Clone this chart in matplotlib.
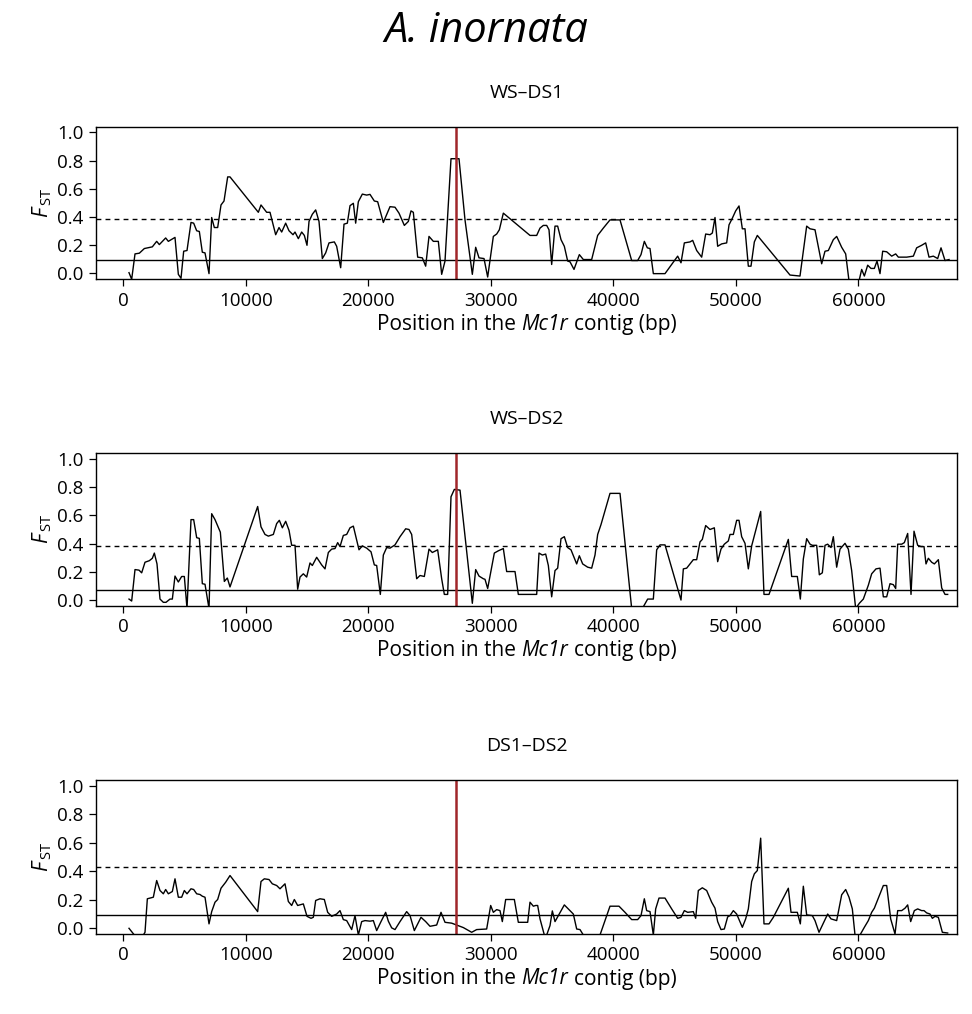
import matplotlib
matplotlib.use("Agg")
import matplotlib.pyplot as plt
from matplotlib.offsetbox import AnchoredOffsetbox, HPacker, TextArea

plt.rcParams["font.family"] = ["Open Sans", "DejaVu Sans"]
plt.rcParams["mathtext.fontset"] = "custom"
plt.rcParams["mathtext.rm"] = "Open Sans"
plt.rcParams["mathtext.it"] = "Open Sans:italic"

# WS-DS1
pos1 = [465, 683, 955, 1309, 1717, 2370, 2724, 2941, 3458, 3676, 4220, 4492, 4710, 4928, 5200,
        5526, 5744, 5989, 6206, 6451, 6669, 6996, 7214, 7431, 7703, 7975, 8220, 8520, 8710,
        11023, 11240, 11703, 11975, 12438, 12710, 12928, 13254, 13526, 13853, 14016, 14288,
        14560, 14778, 14995, 15159, 15428, 15703, 15975, 16247, 16519, 16791, 17226, 17417,
        17744, 18016, 18288, 18506, 18778, 18968, 19186, 19512, 19866, 20138, 20492, 20764,
        21226, 21771, 22179, 22505, 22941, 23267, 23485, 23675, 24029, 24410, 24682, 24954,
        25308, 25716, 25988, 26260, 26750, 27403, 27893, 28491, 28764, 29036, 29444, 29744,
        30206, 30478, 30696, 31022, 33199, 33744, 34016, 34288, 34560, 34750, 34968, 35240,
        35457, 35730, 36001, 36274, 36464, 36791, 37226, 37552, 38233, 38723, 39185, 39729,
        40546, 41498, 41988, 42260, 42532, 42777, 42995, 43267, 44219, 45253, 45525, 45798,
        46260, 46478, 46805, 47213, 47539, 47892, 48083, 48301, 48518, 48845, 49253, 49444,
        49715, 49988, 50260, 50532, 50750, 51021, 51239, 51512, 51756, 54423, 55239, 55784,
        56056, 56464, 57008, 57280, 57552, 57960, 58233, 58641, 58967, 59240, 60056, 60274,
        60492, 60764, 61035, 61307, 61525, 61770, 61988, 62315, 62723, 63049, 63267, 63947,
        64491, 64763, 65171, 65498, 65770, 66124, 66478, 66750, 67077, 67403]
fst1 = [0.005, -0.042, 0.138, 0.143, 0.176, 0.188, 0.227, 0.204, 0.251, 0.227, 0.255, -0.007,
        -0.035, 0.157, 0.162, 0.361, 0.356, 0.302, 0.297, 0.150, 0.145, -0.002, 0.396, 0.325,
        0.325, 0.485, 0.513, 0.684, 0.684, 0.433, 0.485, 0.433, 0.433, 0.274, 0.325, 0.293,
        0.356, 0.302, 0.274, 0.293, 0.246, 0.293, 0.269, 0.199, 0.368, 0.419, 0.450, 0.368,
        0.105, 0.145, 0.216, 0.223, 0.192, 0.040, 0.349, 0.356, 0.480, 0.497, 0.356, 0.508,
        0.562, 0.555, 0.560, 0.513, 0.508, 0.361, 0.473, 0.469, 0.427, 0.340, 0.368, 0.443,
        0.433, 0.115, 0.110, 0.051, 0.262, 0.227, 0.227, -0.007, 0.087, 0.813, 0.813, 0.379,
        -0.007, 0.185, 0.110, 0.105, -0.026, 0.262, 0.279, 0.309, 0.427, 0.269, 0.269, 0.321,
        0.340, 0.340, 0.309, 0.063, 0.335, 0.335, 0.239, 0.192, 0.087, 0.082, 0.028, 0.133,
        0.098, 0.098, 0.269, 0.321, 0.379, 0.379, 0.091, 0.091, 0.133, 0.227, 0.181, 0.176,
        -0.002, -0.002, 0.122, 0.075, 0.216, 0.223, 0.234, 0.162, 0.115, 0.279, 0.274, 0.286,
        0.396, 0.192, 0.209, 0.216, 0.344, 0.391, 0.443, 0.478, 0.316, 0.316, 0.051, 0.051,
        0.223, 0.269, -0.012, -0.019, 0.335, 0.316, 0.309, 0.068, 0.157, 0.162, 0.239, 0.262,
        0.185, 0.138, -0.054, -0.054, 0.028, -0.019, 0.058, 0.035, 0.035, 0.087, -0.002, 0.157,
        0.153, 0.122, 0.138, 0.115, 0.115, 0.122, 0.181, 0.199, 0.216, 0.115, 0.122, 0.105,
        0.181, 0.091, 0.098]

# WS-DS2
pos2 = [465, 683, 955, 1282, 1500, 1771, 2125, 2370, 2533, 2751, 2996, 3268, 3486, 3812, 4003,
        4220, 4492, 4764, 4982, 5200, 5526, 5744, 5989, 6206, 6451, 6669, 6996, 7214, 7486,
        7921, 8247, 8492, 8710, 10968, 11240, 11567, 11839, 12247, 12519, 12737, 12982, 13254,
        13526, 13744, 14016, 14233, 14424, 14696, 14968, 15240, 15431, 15785, 16193, 16465,
        16737, 17009, 17281, 17499, 17689, 17961, 18234, 18506, 18778, 19240, 19512, 19866,
        20220, 20492, 20682, 20981, 21226, 21499, 21771, 22179, 22587, 23050, 23322, 23539,
        23948, 24220, 24573, 24954, 25226, 25662, 25988, 26206, 26478, 26750, 27022, 27485,
        28491, 28764, 29036, 29389, 29526, 29744, 30287, 30614, 31022, 31294, 31975, 32246,
        33744, 33934, 34206, 34478, 34696, 34968, 35240, 35457, 35730, 36001, 36274, 36546,
        37009, 37226, 37498, 37906, 38233, 38505, 38723, 38995, 39729, 40546, 41498, 42369,
        42804, 43267, 43539, 43811, 44219, 45525, 45716, 45988, 46531, 46804, 47076, 47266,
        47539, 47892, 48246, 48518, 48790, 49062, 49389, 49525, 49797, 50069, 50260, 50477,
        50750, 51021, 51294, 51702, 52029, 52300, 52709, 54287, 54559, 55021, 55266, 55511,
        55784, 56056, 56246, 56600, 56817, 57062, 57280, 57498, 57770, 57960, 58233, 58505,
        58913, 59185, 59457, 59783, 60082, 60409, 60817, 61089, 61443, 61770, 62042, 62315,
        62587, 62859, 63049, 63213, 63539, 63756, 64029, 64301, 64546, 64845, 65117, 65362,
        65525, 65716, 65988, 66206, 66533, 66805, 67077, 67294]
fst2 = [0.007, -0.007, 0.216, 0.212, 0.193, 0.268, 0.279, 0.296, 0.333, 0.256, 0.007, -0.016,
        -0.016, 0.007, 0.007, 0.170, 0.128, 0.167, 0.167, -0.060, 0.570, 0.570, 0.442, 0.437,
        0.116, 0.112, -0.060, 0.612, 0.570, 0.481, 0.132, 0.156, 0.093, 0.663, 0.519, 0.465,
        0.453, 0.465, 0.542, 0.565, 0.512, 0.558, 0.495, 0.388, 0.388, 0.077, 0.163, 0.186,
        0.163, 0.263, 0.245, 0.303, 0.249, 0.221, 0.337, 0.361, 0.365, 0.407, 0.379, 0.458,
        0.465, 0.512, 0.524, 0.356, 0.384, 0.368, 0.342, 0.249, 0.245, 0.040, 0.319, 0.372,
        0.368, 0.391, 0.449, 0.505, 0.500, 0.465, 0.151, 0.174, 0.167, 0.361, 0.337, 0.356,
        0.151, 0.040, 0.040, 0.732, 0.784, 0.779, -0.023, 0.216, 0.170, 0.151, 0.147, 0.082,
        0.333, 0.349, 0.365, 0.202, 0.202, 0.040, 0.040, 0.333, 0.319, 0.326, 0.245, 0.023,
        0.209, 0.226, 0.435, 0.449, 0.372, 0.356, 0.256, 0.314, 0.256, 0.233, 0.226, 0.319,
        0.465, 0.535, 0.756, 0.756, -0.060, -0.060, 0.007, 0.007, 0.356, 0.391, 0.391, 0.000,
        0.221, 0.226, 0.286, 0.286, 0.412, 0.430, 0.528, 0.500, 0.512, 0.272, 0.361, 0.396,
        0.419, 0.465, 0.465, 0.565, 0.565, 0.449, 0.402, 0.221, 0.384, 0.519, 0.628, 0.040,
        0.040, 0.430, 0.167, 0.167, 0.007, 0.291, 0.435, 0.396, 0.388, 0.388, 0.179, 0.193,
        0.388, 0.396, 0.372, 0.449, 0.233, 0.361, 0.402, 0.361, 0.209, -0.060, -0.023, 0.007,
        0.105, 0.186, 0.221, 0.226, 0.023, 0.023, 0.116, 0.109, 0.082, 0.396, 0.396, 0.407,
        0.472, 0.040, 0.488, 0.388, 0.379, 0.379, 0.256, 0.296, 0.268, 0.256, 0.286, 0.086,
        0.040, 0.040]

# DS1-DS2
pos3 = [465, 900, 1635, 1771, 1962, 2452, 2724, 2996, 3268, 3458, 3676, 4003, 4220, 4492, 4764,
        4982, 5200, 5526, 5744, 5989, 6261, 6451, 6669, 6996, 7214, 7486, 7703, 7975, 8356,
        8710, 10968, 11240, 11512, 11893, 12165, 12519, 12791, 13199, 13472, 13744, 13961,
        14233, 14696, 14995, 15321, 15512, 15703, 16057, 16410, 16683, 17009, 17417, 17689,
        17961, 18234, 18642, 18914, 19186, 19458, 19730, 20138, 20410, 20682, 21036, 21417,
        21635, 21907, 22179, 22587, 23131, 23404, 23757, 24302, 24682, 25036, 25580, 25934,
        26260, 26805, 27757, 28437, 28846, 29662, 29989, 30206, 30478, 30750, 30940, 31213,
        31920, 32246, 33009, 33199, 33471, 33662, 33825, 34016, 34369, 34560, 34832, 35022,
        35240, 35512, 36001, 36464, 36736, 37009, 37281, 37552, 38913, 39729, 40464, 40954,
        41498, 41988, 42260, 42532, 42722, 42995, 43267, 43457, 43729, 44219, 44764, 45253,
        45525, 45798, 46070, 46531, 46722, 46940, 47266, 47620, 48028, 48301, 48518, 48790,
        49062, 49335, 49525, 49797, 50069, 50532, 50804, 51021, 51294, 51512, 51756, 52029,
        52300, 52709, 53062, 54287, 54505, 55021, 55266, 55511, 55784, 56246, 56464, 56791,
        57498, 57770, 58233, 58641, 58967, 59240, 59511, 59729, 60137, 60492, 60817, 61089,
        61307, 62042, 62315, 62641, 62995, 63213, 63539, 63811, 64029, 64274, 64573, 64845,
        65171, 65362, 65579, 65851, 66042, 66261, 66533, 66859, 67294]
fst3 = [0.000, -0.047, -0.047, -0.028, 0.207, 0.218, 0.335, 0.265, 0.242, 0.272, 0.242, 0.258,
        0.347, 0.218, 0.218, 0.265, 0.242, 0.277, 0.272, 0.242, 0.237, 0.225, 0.218, 0.031,
        0.117, 0.183, 0.202, 0.281, 0.323, 0.370, 0.117, 0.328, 0.347, 0.342, 0.312, 0.300,
        0.277, 0.312, 0.188, 0.160, 0.202, 0.160, 0.171, 0.084, 0.070, 0.077, 0.195, 0.207,
        0.202, 0.112, 0.084, 0.100, 0.124, 0.061, 0.054, -0.009, 0.089, -0.047, 0.047, 0.054,
        0.050, 0.054, -0.016, 0.047, 0.112, 0.050, 0.003, -0.009, 0.047, 0.117, 0.089, -0.016,
        0.077, 0.047, 0.014, 0.023, 0.112, 0.042, 0.036, 0.005, -0.028, -0.009, -0.005, 0.160,
        0.112, 0.131, 0.124, 0.047, 0.202, 0.202, 0.042, 0.042, 0.183, 0.155, 0.160, 0.160,
        0.066, -0.047, -0.047, 0.019, 0.122, 0.047, 0.089, 0.164, 0.124, 0.100, -0.005, -0.009,
        -0.047, -0.047, 0.155, 0.155, 0.112, 0.061, 0.061, 0.089, 0.207, 0.124, 0.117, -0.047,
        0.136, 0.212, 0.212, 0.136, 0.070, 0.077, 0.124, 0.112, 0.117, 0.070, 0.265, 0.284,
        0.265, 0.183, 0.141, 0.047, -0.009, -0.005, 0.080, 0.089, 0.124, 0.100, 0.007, 0.066,
        0.136, 0.328, 0.382, 0.405, 0.632, 0.031, 0.031, 0.077, 0.281, 0.112, 0.112, 0.031,
        0.295, 0.094, 0.089, 0.054, -0.028, 0.100, 0.066, 0.054, 0.235, 0.272, 0.218, 0.136,
        -0.047, -0.047, 0.007, 0.054, 0.112, 0.141, 0.300, 0.300, 0.066, -0.040, 0.124, 0.124,
        0.141, 0.164, 0.047, 0.124, 0.136, 0.124, 0.124, 0.108, 0.100, 0.070, 0.084, 0.077,
        -0.028, -0.033]

titles = ["WS\u2013DS1", "WS\u2013DS2", "DS1\u2013DS2"]
upper = [0.384, 0.384, 0.43]   # dashed threshold
lower = [0.098, 0.07, 0.096]   # solid threshold
mc1r_pos = 27134
xticks = [0, 10000, 20000, 30000, 40000, 50000, 60000]
yticks = [0.0, 0.2, 0.4, 0.6, 0.8, 1.0]

W, H = 972, 1014
fig = plt.figure(figsize=(W / 100, H / 100), dpi=100)

fig.text(0.5, 1 - 31 / H, "A. inornata", ha="center", va="center",
         fontsize=30, style="italic")


def xlabel_box(y_px):
    # "Position in the Mc1r contig (bp)" with only the gene name in italics
    parts = [TextArea("Position in the", textprops=dict(size=15)),
             TextArea("Mc1r", textprops=dict(size=15, style="italic")),
             TextArea("contig (bp)", textprops=dict(size=15))]
    box = HPacker(children=parts, align="baseline", pad=0, sep=4)
    anch = AnchoredOffsetbox(loc="center", child=box, pad=0, borderpad=0, frameon=False,
                             bbox_to_anchor=((left_px + right_px) / (2 * W), 1 - y_px / H),
                             bbox_transform=fig.transFigure)
    fig.add_artist(anch)


# axes boxes in pixels: (top, bottom)
boxes = [(126.7, 279.0), (453.3, 605.7), (780.0, 934.0)]
left_px, right_px = 96, 957

series = [(pos1, fst1), (pos2, fst2), (pos3, fst3)]
for i, ((top, bot), (xs, ys)) in enumerate(zip(boxes, series)):
    ax = fig.add_axes([left_px / W, 1 - bot / H, (right_px - left_px) / W, (bot - top) / H])
    ax.plot(xs, ys, color="black", lw=1.0)
    ax.axhline(upper[i], color="black", lw=1.0, dashes=(3.5, 3))
    ax.axhline(lower[i], color="black", lw=1.0)
    ax.axvline(mc1r_pos, color="#a0262a", lw=1.8)
    ax.set_xlim(-2229, 68055)
    ax.set_ylim(-0.04, 1.04)
    ax.set_xticks(xticks)
    ax.set_xticklabels([str(t) for t in xticks])
    ax.set_yticks(yticks)
    ax.set_yticklabels([f"{t:.1f}" for t in yticks])
    ax.tick_params(direction="out", length=5, width=0.9, labelsize=13.5, pad=4)
    for sp in ax.spines.values():
        sp.set_linewidth(1.0)
    ax.set_ylabel(r"$F_{\,\mathrm{ST}}$", fontsize=15, labelpad=2)
    fig.text((left_px + right_px) / (2 * W), 1 - (top - 34) / H, titles[i],
             ha="center", va="center", fontsize=14)
    xlabel_box(bot + 45)

fig.savefig("out.png", dpi=100)
